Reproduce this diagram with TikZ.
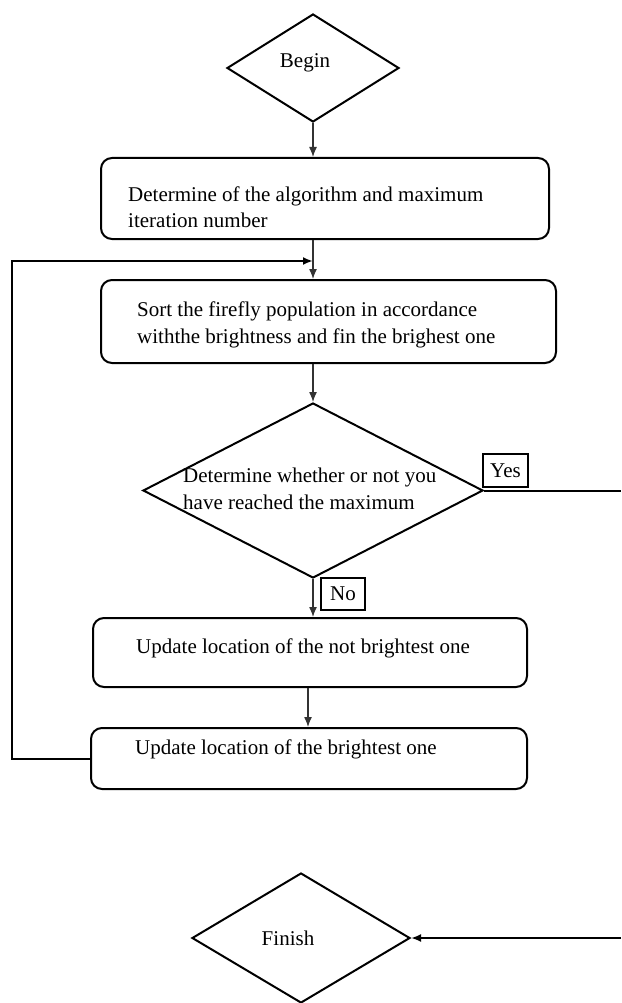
\documentclass[tikz,border=0pt]{standalone}
\usepackage{fontspec}
\setmainfont{Liberation Serif}
\usetikzlibrary{shapes.geometric,arrows.meta}
\begin{document}
\begin{tikzpicture}[x=1pt,y=-1pt,
  every node/.style={font=\fontsize{21}{26.5}\selectfont, text=black},
  proc/.style={draw, line width=2pt, rounded corners=11pt, inner sep=0pt},
  dia/.style={draw, diamond, line width=2pt, inner sep=0pt},
  tag/.style={draw, line width=2pt, inner sep=0pt},
  txt/.style={inner sep=0pt, align=left},
  conn/.style={draw=black!80, line width=1.3pt, -{Latex[length=10pt,width=8pt]}},
  plainline/.style={draw=black, line width=2pt},
  arrline/.style={draw=black, line width=2pt, -{Latex[length=10pt,width=8pt]}}]
\useasboundingbox (0,0) rectangle (621,1003);

% shapes
\node[dia, minimum width=172pt, minimum height=108pt] (begin) at (313,68) {};
\node[txt] (tbegin) at (305,63) {Begin};

\node[proc, minimum width=448pt, minimum height=81pt] (b1) at (325,198.5) {};
\node[txt, anchor=west] (t1) at (128,207) {Determine of the algorithm and maximum\\iteration number};

\node[proc, minimum width=455pt, minimum height=83pt] (b2) at (328.5,321.5) {};
\node[txt, anchor=west] (t2) at (137,325) {Sort the firefly population in accordance\\withthe brightness and fin the brighest one};

\node[dia, minimum width=340pt, minimum height=175pt] (dec) at (313,490.5) {};
\node[txt, anchor=west] (tdec) at (183,489) {Determine whether or not you\\have reached the maximum};

\node[tag, minimum width=45pt, minimum height=33pt] (yes) at (505.5,470.5) {Yes};
\node[tag, minimum width=44pt, minimum height=32pt] (no) at (343,594) {No};

\node[proc, minimum width=434pt, minimum height=69pt] (b3) at (310,652.5) {};
\node[txt] (t3) at (303,648) {Update location of the not brightest one};

\node[proc, minimum width=436pt, minimum height=61pt] (b4) at (309,758.5) {};
\node[txt, anchor=west] (t4) at (135,749) {Update location of the brightest one};

\node[dia, minimum width=218pt, minimum height=130pt] (fin) at (301,938) {};
\node[txt] (tfin) at (288,938) {Finish};

% helper coordinates
\coordinate (lc) at (12,261);
\coordinate (li) at (313,261);
\coordinate (yesend) at (621,490.5);
\coordinate (finstart) at (621,938);
\coordinate (a3) at (308,0);

% connectors
\draw[conn] (begin.south) -- (begin.south |- b1.north);
\draw[conn] (begin.south |- b1.south) -- (begin.south |- b2.north);
\draw[conn] (dec.north |- b2.south) -- (dec.north);
\draw[conn] (dec.south) -- (dec.south |- b3.north);
\draw[conn] (a3 |- b3.south) -- (a3 |- b4.north);
\draw[arrline] (b4.west) -| (lc) -- (li);
\draw[plainline] (dec.east) -- (yesend);
\draw[arrline] (finstart) -- (fin.east);
\end{tikzpicture}
\end{document}
